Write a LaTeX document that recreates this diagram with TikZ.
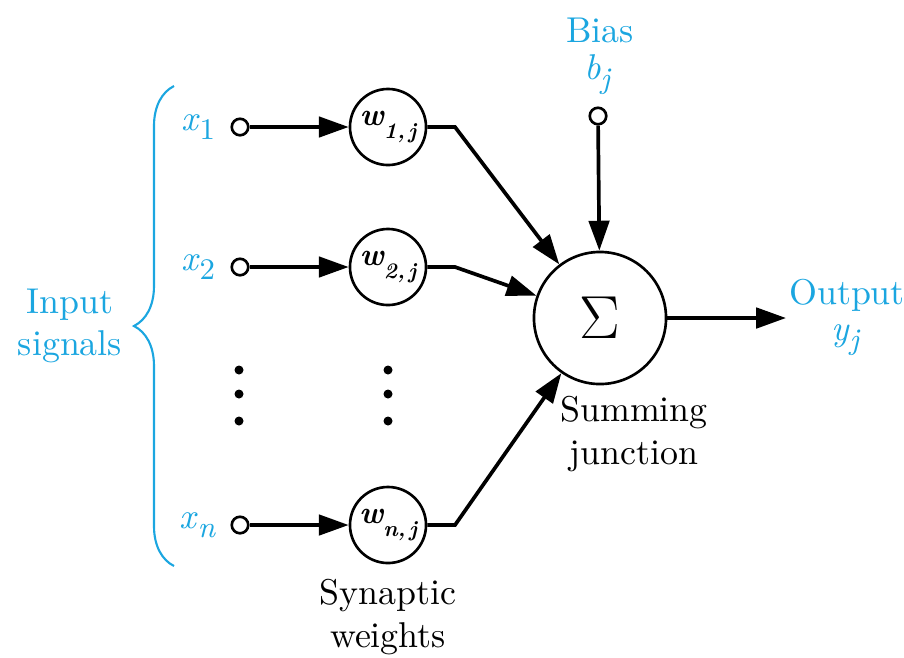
\documentclass[tikz,border=0pt]{standalone}
\usepackage{tikz}
\usetikzlibrary{arrows.meta,decorations.pathreplacing}
\usetikzlibrary{positioning}
\definecolor{sigblue}{RGB}{27,166,224}
\newcommand{\sig}[2]{\textit{#1}\raisebox{-2.5pt}{\fontsize{8.5}{8.5}\selectfont #2}}
\newcommand{\wlabel}[1]{{\fontsize{9}{9}\selectfont\bfseries\itshape w}\raisebox{-3.8pt}{\fontsize{6.3}{6.3}\selectfont\bfseries\itshape #1,\kern1pt j}}
\tikzstyle{neuron_style}=[
	x=0.01cm,y=-0.01cm,line width=1.05pt,>={Triangle[length=8.5pt,width=5.8pt]},
	font=\fontsize{10.2}{12}\selectfont,
	weight/.style={circle,draw,line width=0.75pt,minimum size=0.76cm,inner sep=0pt},
	junction/.style={circle,draw,line width=0.75pt,minimum size=1.32cm,inner sep=0pt},
	terminal/.style={circle,draw,line width=0.75pt,fill=white,minimum size=0.165cm,inner sep=0pt},
	signal/.style={text=sigblue,align=center,inner sep=1pt},
	label/.style={align=center,inner sep=1pt},
	dot/.style={circle,fill,minimum size=0.09cm,inner sep=0pt}
]
\begin{document}
\begin{tikzpicture}[neuron_style]
		\useasboundingbox (0,0) rectangle (904,657);
		
		% inputs
		\node[terminal]  (t1) at (240,127) {};
		\node[terminal]  (t2) at (240,267) {};
		\node[terminal]  (tn) at (240,525) {};
		\node[signal]    (x1)[left=0.1cm of t1] {\sig{x}{1}};
		\node[signal]    (x2)[left=0.1cm of t2] {\sig{x}{2}};
		\node[signal]    (xn)[left=0.1cm of tn] {\sig{x}{\itshape n}};
		
		% synaptic weights
		\node[weight]    (w1) at (388,127) {\wlabel{1}};
		\node[weight]    (w2) at (388,267) {\wlabel{2}};
		\node[weight]    (wn) at (388,525) {\wlabel{n}};
		
		\foreach \i/\y in {1/370,2/394,3/421} {
			\node[dot] (dl\i) at (239,\y) {};
			\node[dot] (dr\i) at (388,\y) {};
		}
		
		% summing junction
		\node[junction]  (sum) at (600,318) {\fontsize{16.5}{16.5}\selectfont $\Sigma$};
		\node[terminal]  (tb) at (598,116) {};
		\node[signal]    (bias) at (600,30) {Bias};
		\node[signal]    (bj) at (597,75) {\sig{b}{\itshape j}};
		
		\coordinate (out) at (786,318);
		\node[signal]    (output) at (847,295) {Output};
		\node[signal]    (yj) at (845,340) {\sig{y}{\itshape j}};
		
		\node[label]     (sumlabel) at (634,434) {Summing\\junction};
		\node[label]     (synlabel) at (388,617) {Synaptic\\weights};
		\node[signal]    (inlabel) at (70,326) {Input\\signals};
		
		\coordinate (k1) at (455,127);
		\coordinate (k2) at (455,267);
		\coordinate (kn) at (455,525);
		\coordinate (bt) at (174,86);
		\coordinate (bb) at (174,566);
		
		\path[->] (t1) edge (w1)
		(t2) edge (w2)
		(tn) edge (wn)
		(tb) edge (sum)
		(sum) edge (out);
		
		\draw[->] (w1.east) -- (k1) -- (sum);
		\draw[->] (w2.east) -- (k2) -- (sum);
		\draw[->] (wn.east) -- (kn) -- (sum);
		
		\draw[sigblue,line width=0.6pt,decorate,decoration={brace,amplitude=0.4cm}] (bb) -- (bt);
		
\end{tikzpicture}
\end{document}
